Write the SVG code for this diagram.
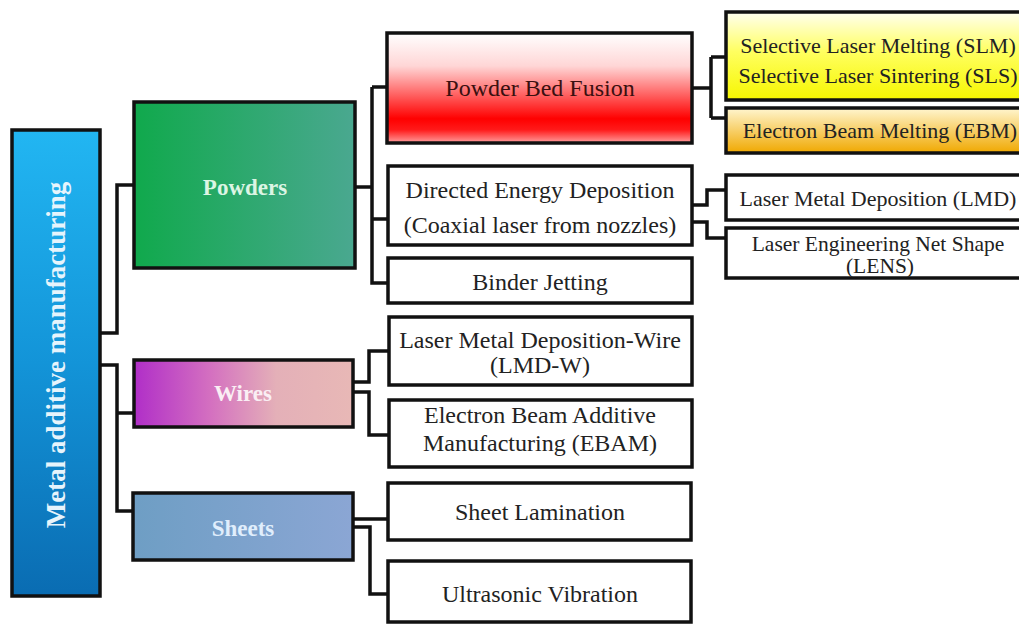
<svg xmlns="http://www.w3.org/2000/svg" width="1019" height="624" viewBox="0 0 1019 624">
<defs>
<linearGradient id="gRoot" x1="0" y1="0" x2="0" y2="1"><stop offset="0" stop-color="#22b6f2"/><stop offset="0.5" stop-color="#1394d8"/><stop offset="1" stop-color="#0a6cb2"/></linearGradient>
<linearGradient id="gPow" x1="0" y1="0" x2="1" y2="0"><stop offset="0" stop-color="#10a94c"/><stop offset="1" stop-color="#4aa890"/></linearGradient>
<linearGradient id="gPBF" x1="0" y1="0" x2="0" y2="1"><stop offset="0" stop-color="#ffffff"/><stop offset="0.3" stop-color="#ffd6d6"/><stop offset="0.78" stop-color="#ff0000"/><stop offset="0.88" stop-color="#ff1a1a"/><stop offset="1" stop-color="#ffa0a0"/></linearGradient>
<linearGradient id="gSLM" x1="0" y1="0" x2="0" y2="1"><stop offset="0" stop-color="#fffff0"/><stop offset="0.45" stop-color="#ffff60"/><stop offset="1" stop-color="#f6f600"/></linearGradient>
<linearGradient id="gEBM" x1="0" y1="0" x2="0" y2="1"><stop offset="0" stop-color="#fff6d0"/><stop offset="1" stop-color="#f0a800"/></linearGradient>
<linearGradient id="gWire" x1="0" y1="0" x2="1" y2="0"><stop offset="0" stop-color="#b02ec8"/><stop offset="0.35" stop-color="#d470c0"/><stop offset="0.65" stop-color="#e4b0b8"/><stop offset="1" stop-color="#e8b8b6"/></linearGradient>
<linearGradient id="gSheet" x1="0" y1="0" x2="1" y2="0"><stop offset="0" stop-color="#6e9ec4"/><stop offset="1" stop-color="#8ba6d4"/></linearGradient>
</defs>
<style>
.box{stroke:#111;stroke-width:3.5}
.w{fill:#ffffff}
text{font-family:'Liberation Serif','DejaVu Serif',serif}
.t{font-size:22px;fill:#222;text-anchor:middle}
.m{font-size:24px}
.b{font-size:23px;font-weight:bold;text-anchor:middle}
.c{fill:none;stroke:#111;stroke-width:3.5}
</style>
<rect width="1019" height="624" fill="#ffffff"/>
<g id="connectors">
<path class="c" d="M100 333 H117 V185 H134"/>
<path class="c" d="M100 365 H117 V511 H133 M117 413 H134"/>
<path class="c" d="M355 187 H372 M372 87 V283 H388 M372 87 H387 M372 219 H388"/>
<path class="c" d="M692 88 H711 M711 57 V118 M711 57 H726 M711 118 H726"/>
<path class="c" d="M692 205 H707 V190 H726 M692 222 H707 V238 H726"/>
<path class="c" d="M353 382 H369 V351 H389 M353 392 H369 V435 H389"/>
<path class="c" d="M353 519 H388 M353 527 H370 V594 H388"/>
</g>
<g id="root"><rect class="box" x="12" y="130" width="88" height="466" fill="url(#gRoot)"/><text class="b" x="56" y="364" transform="rotate(-90 56 355)" style="font-size:27px" fill="#e6f4fc">Metal additive manufacturing</text></g>
<g id="powders"><rect class="box" x="134" y="102" width="221" height="166" fill="url(#gPow)"/><text class="b" x="245" y="195" fill="#dcf5e4">Powders</text></g>
<g id="wires"><rect class="box" x="134" y="360" width="219" height="67" fill="url(#gWire)"/><text class="b" x="243" y="401" fill="#faeef4">Wires</text></g>
<g id="sheets"><rect class="box" x="133" y="493" width="220" height="67" fill="url(#gSheet)"/><text class="b" x="243" y="536" fill="#e0eefc">Sheets</text></g>
<g id="pbf"><rect class="box" x="387" y="33" width="305" height="110" fill="url(#gPBF)"/><text class="t m" x="540" y="96" style="fill:#3a1010">Powder Bed Fusion</text></g>
<g id="ded"><rect class="box w" x="388" y="166" width="304" height="79"/><text class="t m" x="540" y="198">Directed Energy Deposition</text><text class="t m" x="540" y="233">(Coaxial laser from nozzles)</text></g>
<g id="binder"><rect class="box w" x="388" y="258" width="304" height="45"/><text class="t m" x="540" y="290">Binder Jetting</text></g>
<g id="lmdw"><rect class="box w" x="389" y="317" width="303" height="68"/><text class="t m" x="540" y="348">Laser Metal Deposition-Wire</text><text class="t m" x="540" y="373">(LMD-W)</text></g>
<g id="ebam"><rect class="box w" x="389" y="400" width="303" height="67"/><text class="t m" x="540" y="423">Electron Beam Additive</text><text class="t m" x="540" y="451">Manufacturing (EBAM)</text></g>
<g id="sheetlam"><rect class="box w" x="388" y="483" width="303" height="57"/><text class="t m" x="540" y="520">Sheet Lamination</text></g>
<g id="ultra"><rect class="box w" x="388" y="561" width="303" height="61"/><text class="t m" x="540" y="602">Ultrasonic Vibration</text></g>
<g id="slm"><rect class="box" x="726" y="12" width="302" height="88" fill="url(#gSLM)"/><text class="t" x="878" y="53">Selective Laser Melting (SLM)</text><text class="t" x="878" y="83">Selective Laser Sintering (SLS)</text></g>
<g id="ebm"><rect class="box" x="726" y="108" width="302" height="45" fill="url(#gEBM)"/><text class="t" x="880" y="138">Electron Beam Melting (EBM)</text></g>
<g id="lmd"><rect class="box w" x="726" y="175" width="305" height="45"/><text class="t" x="878" y="206">Laser Metal Deposition (LMD)</text></g>
<g id="lens"><rect class="box w" x="726" y="228" width="305" height="50"/><text class="t" x="878" y="251" style="font-size:21.5px">Laser Engineering Net Shape</text><text class="t" x="880" y="273" style="font-size:21.5px">(LENS)</text></g>
</svg>
